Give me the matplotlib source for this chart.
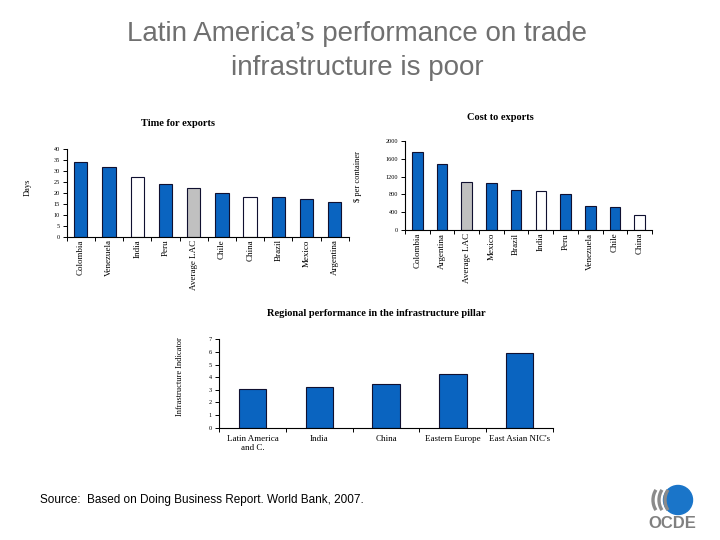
import matplotlib
matplotlib.use("Agg")
import matplotlib.pyplot as plt
from matplotlib.patches import Circle, Arc

# Time for exports (days)
time_countries = ["Colombia", "Venezuela", "India", "Peru", "Average LAC",
                  "Chile", "China", "Brazil", "Mexico", "Argentina"]
time_days = [34, 32, 27, 24, 22, 20, 18, 18, 17, 15.8]

# Cost to exports ($ per container)
cost_countries = ["Colombia", "Argentina", "Average LAC", "Mexico", "Brazil",
                  "India", "Peru", "Venezuela", "Chile", "China"]
cost_usd = [1745, 1480, 1070, 1050, 893, 868, 800, 533, 510, 332]

# Regional infrastructure pillar
regions = ["Latin America\nand C.", "India", "China", "Eastern Europe", "East Asian NIC's"]
infra = [3.04, 3.2, 3.44, 4.23, 5.9]

BLUE = "#0a64c0"
GREY = "#c0c0c0"
WHITE = "#ffffff"


def bar_colors(names):
    cols = []
    for n in names:
        if n == "Average LAC":
            cols.append(GREY)
        elif n in ("India", "China"):
            cols.append(WHITE)
        else:
            cols.append(BLUE)
    return cols


serif = "Liberation Serif"
fig = plt.figure(figsize=(7.2, 5.4), dpi=100)
fig.patch.set_facecolor("white")


def style_axes(ax, n):
    for s in ("top", "right"):
        ax.spines[s].set_visible(False)
    for s in ("left", "bottom"):
        ax.spines[s].set_linewidth(0.8)
    ax.set_xlim(-0.5, n - 0.5)
    ax.set_xticks([i - 0.5 for i in range(n + 1)], minor=True)
    ax.tick_params(axis="x", which="major", length=0, pad=2)
    ax.tick_params(axis="x", which="minor", length=3, width=0.7, direction="out")
    ax.tick_params(axis="y", length=3, width=0.7, direction="out",
                   labelsize=4.5, pad=2)


# chart 1: time for exports
ax1 = fig.add_axes([0.0926, 0.5617, 0.392, 0.1624])
ax1.bar(range(len(time_days)), time_days, width=0.47,
        color=bar_colors(time_countries), edgecolor="#101030", linewidth=0.8)
ax1.set_ylim(0, 40)
ax1.set_yticks(range(0, 41, 5))
style_axes(ax1, len(time_days))
ax1.set_xticks(range(len(time_days)))
ax1.set_xticklabels(time_countries, rotation=90, fontsize=6.5, family=serif)
for lb in ax1.get_yticklabels():
    lb.set_family(serif)
fig.text(178 / 720, 1 - 123 / 540, "Time for exports", ha="center", va="center",
         fontsize=7.5, fontweight="bold", family=serif)
fig.text(28 / 720, 1 - 187 / 540, "Days", rotation=90, ha="center", va="center",
         fontsize=6, family=serif)

# chart 2: cost to exports
ax2 = fig.add_axes([0.5625, 0.5741, 0.343, 0.1648])
ax2.bar(range(len(cost_usd)), cost_usd, width=0.43,
        color=bar_colors(cost_countries), edgecolor="#101030", linewidth=0.8)
ax2.set_ylim(0, 2000)
ax2.set_yticks(range(0, 2001, 400))
style_axes(ax2, len(cost_usd))
ax2.set_xticks(range(len(cost_usd)))
ax2.set_xticklabels(cost_countries, rotation=90, fontsize=6.5, family=serif)
for lb in ax2.get_yticklabels():
    lb.set_family(serif)
fig.text(500 / 720, 1 - 117 / 540, "Cost to exports", ha="center", va="center",
         fontsize=7.5, fontweight="bold", family=serif)
fig.text(358 / 720, 1 - 176 / 540, "$ per container", rotation=90, ha="center",
         va="center", fontsize=6, family=serif)

# chart 3: regional infrastructure
ax3 = fig.add_axes([0.3042, 0.208, 0.4639, 0.1637])
ax3.bar(range(len(infra)), infra, width=0.41, color=BLUE,
        edgecolor="#101030", linewidth=0.8)
ax3.set_ylim(0, 7)
ax3.set_yticks(range(0, 8))
style_axes(ax3, len(infra))
ax3.set_xticks(range(len(infra)))
ax3.set_xticklabels(regions, fontsize=6.5, family=serif, va="top")
ax3.tick_params(axis="x", which="major", pad=5)
for lb in ax3.get_yticklabels():
    lb.set_family(serif)
fig.text(376 / 720, 1 - 314 / 540, "Regional performance in the infrastructure pillar",
         ha="center", va="center", fontsize=7.5, fontweight="bold", family=serif)
fig.text(180 / 720, 1 - 377 / 540, "Infrastructure Indicator", rotation=90,
         ha="center", va="center", fontsize=6, family=serif)

# main title
fig.text(357 / 720, 1 - 51 / 540, "Latin America\u2019s performance on trade\ninfrastructure is poor",
         ha="center", va="center", fontsize=20, color="#707070",
         family="Liberation Sans", linespacing=1.4)

# source
fig.text(40 / 720, 1 - 500 / 540, "Source:  Based on Doing Business Report. World Bank, 2007.",
         ha="left", va="center", fontsize=8.5, family="Liberation Sans")

# OCDE logo
lax = fig.add_axes([640 / 720, 0, 80 / 720, 60 / 540])
lax.set_xlim(640, 720)
lax.set_ylim(540, 480)
lax.set_aspect("equal")
lax.axis("off")
lax.add_patch(Circle((678, 500), 14.5, color="#1a75c9"))
for dx in (0, 6, 12):
    lax.add_patch(Arc((680 - dx, 500), 30, 34, theta1=140, theta2=220,
                      color="#8a8a8a", linewidth=2.4))
lax.text(672, 524, "OCDE", ha="center", va="center", fontsize=12,
         color="#808080", family="Liberation Sans", fontweight="bold")

fig.savefig("out.png", dpi=100)
